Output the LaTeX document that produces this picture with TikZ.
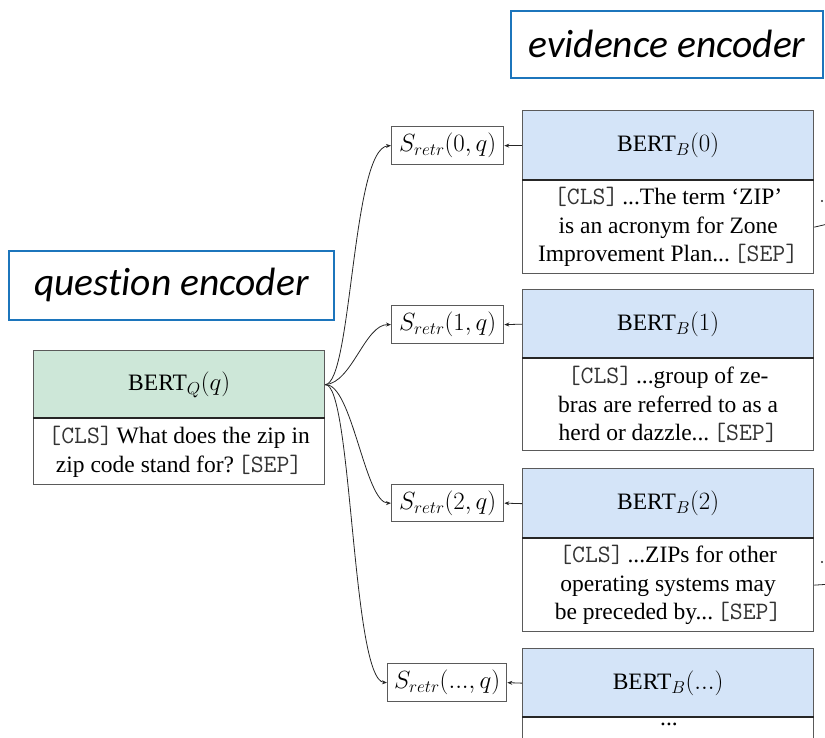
\documentclass[tikz,border=0pt]{standalone}
\usepackage[no-math]{fontspec}
\setmainfont{Liberation Serif}
\newfontfamily\tagfamily[Ligatures=NoCommon]{Carlito}
\usetikzlibrary{arrows.meta}

\definecolor{tagblue}{HTML}{1C75BC}
\definecolor{boxgray}{HTML}{5A5A5A}
\definecolor{qgreen}{HTML}{CDE7D8}
\definecolor{bblue}{HTML}{D4E4F8}
\definecolor{tokgray}{HTML}{333333}

% special tokens in a light typewriter face
\newcommand\tok[1]{{\fontsize{25}{28.5}\selectfont\textcolor{tokgray}{\texttt{#1}}}}

\begin{document}
\begin{tikzpicture}[x=1pt, y=-1pt,
  tag/.style={draw=tagblue, line width=1.8pt, inner sep=0pt, anchor=north west,
    font=\tagfamily\itshape\fontsize{39.5}{44}\selectfont},
  head/.style={draw=boxgray, line width=1.3pt, inner sep=0pt, anchor=north west,
    minimum width=291pt, font=\fontsize{23.5}{28.5}\selectfont},
  body/.style={draw=boxgray, line width=1.3pt, inner sep=0pt, anchor=north west,
    minimum width=291pt, align=center, fill=white, font=\fontsize{23.5}{28.5}\selectfont},
  score/.style={draw=boxgray, line width=1.3pt, inner sep=0pt, anchor=north west,
    minimum height=38pt, fill=white, font=\fontsize{23.5}{28.5}\selectfont},
  sepline/.style={draw=black!85, line width=1.6pt},
  conn/.style={draw=black!85, line width=0.8pt, -{Stealth[length=5pt,width=4pt]}},
  plain/.style={draw=black!85, line width=0.8pt}
]
\useasboundingbox (0,0) rectangle (825,738);
\clip (0,0) rectangle (825,738);

% encoder labels
\node[tag, minimum width=312pt, minimum height=67pt] (evlabel) at (510,10) {evidence encoder};
\node[tag, minimum width=325pt, minimum height=69pt] (qlabel) at (8,250) {question encoder};

% question encoder
\node[head, fill=qgreen, minimum height=68pt] (Q) at (33,350) {BERT$_{Q}(q)$};
\node[body, minimum height=66pt] (Qb) at (33,418) {\tok{[CLS]}\,What does the zip in\\zip code stand for?\,\tok{[SEP]}};
\draw[sepline] (Qb.north west) -- (Qb.north east);

% evidence encoders
\node[head, fill=bblue, minimum height=70pt] (B0) at (522,110) {BERT$_{B}(0)$};
\node[body, minimum height=93pt] (B0b) at (522,180) {\tok{[CLS]}\,...The term `ZIP'\\is an acronym for Zone\\Improvement Plan...\,\tok{[SEP]}};
\draw[sepline] (B0b.north west) -- (B0b.north east);

\node[head, fill=bblue, minimum height=69pt] (B1) at (522,289) {BERT$_{B}(1)$};
\node[body, minimum height=92pt] (B1b) at (522,358) {\tok{[CLS]}\,...group of ze-\\bras are referred to as a\\herd or dazzle...\,\tok{[SEP]}};
\draw[sepline] (B1b.north west) -- (B1b.north east);

\node[head, fill=bblue, minimum height=70pt] (B2) at (522,468) {BERT$_{B}(2)$};
\node[body, minimum height=93pt] (B2b) at (522,538) {\tok{[CLS]}\,...ZIPs for other\\operating systems may\\be preceded by...\,\tok{[SEP]}};
\draw[sepline] (B2b.north west) -- (B2b.north east);

\node[head, fill=bblue, minimum height=69pt] (B3) at (522,648) {BERT$_{B}(...)$};
\node[body, minimum height=60pt, anchor=north west] (B3b) at (522,717) {};
\node[font=\fontsize{23.5}{28.5}\selectfont, inner sep=0pt] (B3dots) at (669,724) {...};
\draw[sepline] (B3b.north west) -- (B3b.north east);

% retrieval scores
\node[score, minimum width=112pt] (S0) at (391,126) {$S_{retr}(0,q)$};
\node[score, minimum width=112pt] (S1) at (391,305) {$S_{retr}(1,q)$};
\node[score, minimum width=112pt, minimum height=37pt] (S2) at (391,484) {$S_{retr}(2,q)$};
\node[score, minimum width=119pt] (S3) at (387,663) {$S_{retr}(...,q)$};

% evidence -> score
\draw[conn] (B0.west) -- (S0.east);
\draw[conn] (B1.west) -- (S1.east);
\draw[conn] (B2.west) -- (S2.east);
\draw[conn] (B3.west) -- (S3.east);

% question -> score
\coordinate (qo) at (Q.east);
\draw[conn] (qo) .. controls (352,383) and (352,148) .. (S0.west);
\draw[conn] (qo) .. controls (352,383) and (365,324) .. (S1.west);
\draw[conn] (qo) .. controls (352,383) and (365,503) .. (S2.west);
\draw[conn] (qo) .. controls (352,383) and (352,680) .. (S3.west);

% connectors leaving to the right
\coordinate (r0) at (832,223);
\coordinate (r2) at (832,584);
\draw[plain] (B0b.east) -- (r0);
\draw[plain] (B2b.east) -- (r2);
\fill[black!85] (822,201) circle (1.1pt);
\fill[black!85] (822,562) circle (1.1pt);
\end{tikzpicture}
\end{document}
